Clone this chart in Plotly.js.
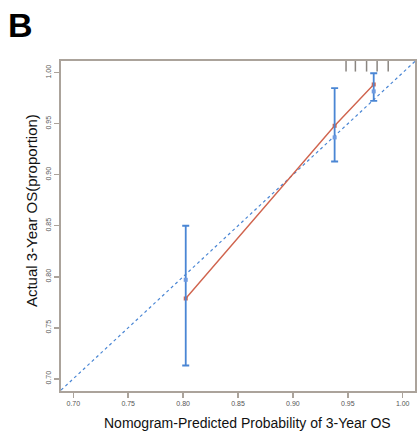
<!DOCTYPE html>
<html><head><meta charset="utf-8">
<script src="https://cdn.plot.ly/plotly-3.0.1.min.js"></script>
<style>body{margin:0;background:#fff}#chart{width:417px;height:445px}
#lbl{position:absolute;left:8px;top:6px;font:bold 34px "Liberation Sans",Arial,sans-serif;color:#000}</style>
</head><body>
<div id="chart"></div>
<div id="lbl">B</div>
<script>
// Data
const predicted = [0.8024, 0.938, 0.9736];
const observed = [0.797, 0.9366, 0.9817];
const ciUpper = [0.850, 0.985, 0.9995];
const ciLower = [0.713, 0.913, 0.9725];
const biasCorrected = [0.7787, 0.948, 0.9885];
const rug = [0.9484, 0.9569, 0.9671, 0.9767, 0.9868];
const xTicks = [0.70, 0.75, 0.80, 0.85, 0.90, 0.95, 1.00];
const yTicks = [0.70, 0.75, 0.80, 0.85, 0.90, 0.95, 1.00];
const xTitle = 'Nomogram-Predicted Probability of 3-Year OS';
const yTitle = 'Actual 3-Year OS(proportion)';
const axisRange = [0.6888, 1.0112];
const yRange = [0.688, 1.0115];

const blue = '#4a86d4';
const red = '#d0644e';
const frame = '#aba39b';
const font = 'Liberation Sans, Arial, sans-serif';

const traces = [
  {x: axisRange, y: axisRange, mode: 'lines', line: {color: blue, width: 1.2, dash: 'dot'}, hoverinfo: 'skip'},
  {x: predicted, y: biasCorrected, mode: 'lines+markers', line: {color: red, width: 1.4},
   marker: {color: red, size: 4, symbol: 'square'}},
  {x: predicted, y: observed, mode: 'markers', marker: {color: '#6f9be0', size: 4, symbol: 'square'},
   error_y: {type: 'data', symmetric: false,
     array: ciUpper.map((u, i) => u - observed[i]),
     arrayminus: observed.map((o, i) => o - ciLower[i]),
     color: blue, thickness: 1.8, width: 3.5}}
];

const shapes = rug.map(v => ({type: 'line', xref: 'x', yref: 'paper', x0: v, x1: v, y0: 1, y1: 0.968,
  line: {color: '#8a8580', width: 1.5}}));

const axisCommon = {showline: true, mirror: true, linecolor: frame, linewidth: 2, ticks: 'outside',
  ticklen: 5, tickcolor: frame, tickwidth: 1.5, showgrid: false, zeroline: false,
  tickfont: {family: font, size: 7, color: '#555'}};

Plotly.newPlot('chart', traces, {
  width: 417, height: 445, showlegend: false,
  paper_bgcolor: '#fff', plot_bgcolor: '#fff',
  margin: {l: 61, r: 2, t: 61, b: 54},
  xaxis: Object.assign({}, axisCommon, {range: axisRange, tickvals: xTicks, ticktext: xTicks.map(v => v.toFixed(2))}),
  yaxis: Object.assign({}, axisCommon, {range: yRange, tickvals: yTicks, ticktext: yTicks.map(v => v.toFixed(2)), tickangle: -90}),
  annotations: [
    {text: xTitle, xref: 'paper', yref: 'paper', x: 0.528, y: -0.097, xanchor: 'center', yanchor: 'middle',
     showarrow: false, font: {family: font, size: 14, color: '#111'}},
    {text: yTitle, xref: 'paper', yref: 'paper', x: -0.085, y: 0.548, xanchor: 'center', yanchor: 'middle',
     textangle: -90, showarrow: false, font: {family: font, size: 15, color: '#111'}}
  ],
  shapes: shapes
}, {displayModeBar: false, staticPlot: true});
</script>
</body></html>
